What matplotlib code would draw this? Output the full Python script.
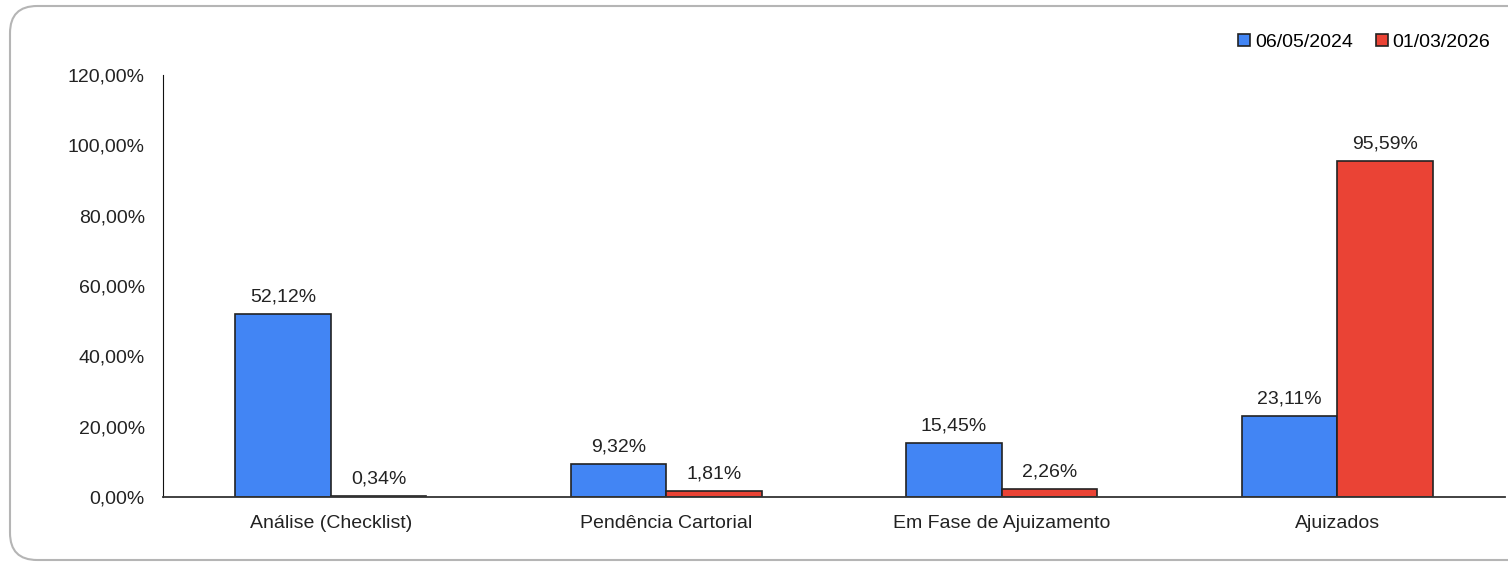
import matplotlib
matplotlib.use('Agg')
from matplotlib import pyplot as plt
from matplotlib.patches import FancyBboxPatch
from matplotlib.ticker import FuncFormatter
import numpy as np

categories = ["Análise (Checklist)", "Pendência Cartorial",
              "Em Fase de Ajuizamento", "Ajuizados"]
series_names = ["06/05/2024", "01/03/2026"]
values_2024 = [52.12, 9.32, 15.45, 23.11]
values_2026 = [0.34, 1.81, 2.26, 95.59]
colors = ["#4285F4", "#EA4335"]

plt.rcParams['font.family'] = ['Liberation Sans', 'DejaVu Sans']
FS = 14

W, H = 1508, 563
fig = plt.figure(figsize=(W / 100, H / 100), dpi=100)

# rounded frame around the chart (right side runs off the image)
frame = FancyBboxPatch((10 / W, 3 / H), 1.02 - 10 / W, 554 / H,
                       boxstyle="round,pad=0,rounding_size=0.018",
                       transform=fig.transFigure, fc="none", ec="#b5b5b5",
                       lw=1.5, mutation_aspect=W / H, zorder=-1)
fig.patches.append(frame)

ax = fig.add_axes([163 / W, (H - 497) / H, (1505 - 163) / W, 422 / H])
ax.patch.set_alpha(0)

x = np.arange(len(categories))
width = 0.285
bars1 = ax.bar(x - width / 2, values_2024, width, color=colors[0],
               edgecolor="#222222", lw=1.2, label=series_names[0])
bars2 = ax.bar(x + width / 2, values_2026, width, color=colors[1],
               edgecolor="#222222", lw=1.2, label=series_names[1])


def pct(v):
    return ("%.2f%%" % v).replace(".", ",")


for bars in (bars1, bars2):
    for b in bars:
        ax.annotate(pct(b.get_height()),
                    (b.get_x() + b.get_width() / 2, b.get_height()),
                    xytext=(0, 6), textcoords="offset points",
                    ha="center", va="bottom", fontsize=FS, color="#222222")

ax.set_xlim(-0.5, 3.5)
ax.set_ylim(0, 120)
ax.set_yticks(np.arange(0, 121, 20))
ax.yaxis.set_major_formatter(FuncFormatter(lambda v, p: pct(v)))
ax.set_xticks(x)
ax.set_xticklabels(categories)
ax.tick_params(axis="both", length=0, labelsize=FS, colors="#222222")
ax.tick_params(axis="y", pad=13)
ax.tick_params(axis="x", pad=13)
for side in ("top", "right"):
    ax.spines[side].set_visible(False)
ax.spines["left"].set_color("#111111")
ax.spines["bottom"].set_color("#333333")
ax.spines["bottom"].set_linewidth(1.3)

ax.legend(loc="upper right", bbox_to_anchor=(1500 / W, (H - 24) / H),
          bbox_transform=fig.transFigure, ncol=2, frameon=False,
          fontsize=FS, handlelength=0.6, handleheight=0.6,
          handletextpad=0.25, columnspacing=1.2, borderpad=0)

fig.savefig("out.png", dpi=100)
